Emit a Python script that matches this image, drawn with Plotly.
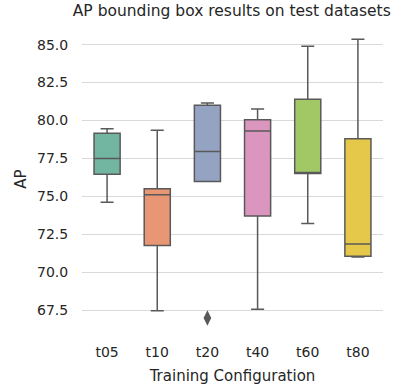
import colorsys
import plotly.graph_objects as go

configs = ["t05", "t10", "t20", "t40", "t60", "t80"]
lower = [74.6, 67.45, 76.0, 67.55, 73.2, 71.0]
q1 = [76.45, 71.75, 75.97, 73.7, 76.5, 71.05]
median = [77.5, 75.1, 77.95, 79.3, 76.57, 71.85]
q3 = [79.15, 75.5, 81.0, 80.05, 81.4, 78.8]
upper = [79.45, 79.35, 81.15, 80.75, 84.9, 85.35]
outlier_cfg = ["t20"]
outlier_val = [66.97]

base = ["#66c2a5", "#fc8d62", "#8da0cb", "#e78ac3", "#a6d854", "#ffd92f"]


def desat(hexc, f=0.75):
    r, g, b = [int(hexc[i:i + 2], 16) / 255 for i in (1, 3, 5)]
    h, l, s = colorsys.rgb_to_hls(r, g, b)
    r, g, b = colorsys.hls_to_rgb(h, l, s * f)
    return "#%02x%02x%02x" % (round(r * 255), round(g * 255), round(b * 255))


colors = [desat(c) for c in base]
line_col = "#595959"
font = "DejaVu Sans"

fig = go.Figure()
for i, c in enumerate(configs):
    fig.add_trace(go.Box(
        x=[c], q1=[q1[i]], median=[median[i]], q3=[q3[i]],
        lowerfence=[lower[i]], upperfence=[upper[i]],
        fillcolor=colors[i], line=dict(color=line_col, width=1.5),
        width=0.52, whiskerwidth=0.5, boxpoints=False, showlegend=False,
        hoverinfo="skip",
    ))
fig.add_trace(go.Scatter(
    x=outlier_cfg, y=outlier_val, mode="markers",
    marker=dict(symbol="diamond-tall", size=11, color=line_col),
    showlegend=False,
))

fig.update_layout(
    width=401, height=392,
    margin=dict(l=82, r=18, t=26, b=60),
    paper_bgcolor="white", plot_bgcolor="white",
    font=dict(family=font, color="#262626", size=14),
    title=dict(text="AP bounding box results on test datasets",
               x=0.578, xanchor="center", y=0.972, yanchor="middle",
               font=dict(size=15.5, color="#262626")),
    xaxis=dict(
        type="category", categoryorder="array", categoryarray=configs,
        range=[-0.5, 5.5], showgrid=False, zeroline=False, showline=False,
        ticks="outside", ticklen=7, tickcolor="rgba(0,0,0,0)",
        title=dict(text="Training Configuration", font=dict(size=15), standoff=11),
    ),
    yaxis=dict(
        range=[66.05, 86.23], tickvals=[67.5, 70, 72.5, 75, 77.5, 80, 82.5, 85],
        tickformat=".1f", showgrid=True, gridcolor="#d9d9d9", gridwidth=1,
        zeroline=False, showline=False,
        ticks="outside", ticklen=10, tickcolor="rgba(0,0,0,0)",
        title=dict(text="AP", font=dict(size=15), standoff=6),
    ),
)

fig.write_html("out.html")
